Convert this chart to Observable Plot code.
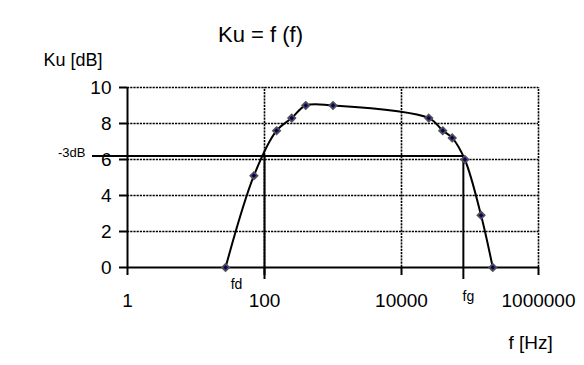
<!DOCTYPE html>
<html>
<head>
<meta charset="utf-8">
<script src="https://cdn.jsdelivr.net/npm/d3@7"></script>
<script src="https://cdn.jsdelivr.net/npm/@observablehq/plot@0.6"></script>
<style>
  html, body { margin: 0; padding: 0; background: #fff; }
</style>
</head>
<body>
<div id="chart"></div>
<script>
// Data
const freq = [27, 70, 150, 250, 400, 1000, 25000, 40000, 55000, 84000, 145000, 215000];
const gain = [0, 5.1, 7.6, 8.3, 9.0, 9.0, 8.3, 7.6, 7.2, 6.0, 2.9, 0];
const xTicks = [1, 100, 10000, 1000000];
const yTicks = [0, 2, 4, 6, 8, 10];
const xGrid = [100, 10000, 1000000];
const yGrid = [2, 4, 6, 8, 10];
const level3dB = 6.2;
const fd = 100;
const fg = 80000;
const title = "Ku = f (f)";
const yLabel = "Ku [dB]";
const xLabel = "f [Hz]";
const levelLabel = "-3dB";
const fdLabel = "fd";
const fgLabel = "fg";

const data = freq.map((f, i) => ({f, ku: gain[i]}));
const xMin = xTicks[0], xMax = xTicks[xTicks.length - 1];
const yMin = yTicks[0], yMax = yTicks[yTicks.length - 1];

const chart = Plot.plot({
  width: 584,
  height: 365,
  marginLeft: 127,
  marginRight: 46,
  marginTop: 87,
  marginBottom: 98,
  style: {fontFamily: "'Liberation Sans', Arial, sans-serif", fontSize: "19px", color: "#000", background: "#fff"},
  x: {type: "log", domain: [xMin, xMax], axis: null},
  y: {domain: [yMin, yMax], axis: null},
  marks: [
    // dotted gridlines
    Plot.ruleX(xGrid, {x: d => d, y1: yMin, y2: yMax, stroke: "#000", strokeWidth: 1.6, strokeDasharray: "2.2,1"}),
    Plot.ruleY(yGrid, {y: d => d, x1: xMin, x2: xMax, stroke: "#000", strokeWidth: 1.6, strokeDasharray: "2.2,1"}),
    // axes
    Plot.axisX({ticks: xTicks, tickFormat: d => String(d), tickSize: 8, tickPadding: 18, strokeWidth: 2, label: null, fontSize: 19}),
    Plot.axisY({ticks: yTicks, tickFormat: d => String(d), tickSize: 8, tickPadding: 8, strokeWidth: 2, label: null, fontSize: 19}),
    Plot.ruleY([yMin], {x1: xMin, x2: xMax, stroke: "#000", strokeWidth: 2}),
    Plot.ruleX([xMin], {y1: yMin, y2: yMax, stroke: "#000", strokeWidth: 2}),
    // -3dB level and cut-off frequencies
    Plot.ruleY([level3dB], {y: d => d, x1: xMin, x2: fg, insetLeft: -35, stroke: "#000", strokeWidth: 2}),
    Plot.ruleX([fd, fg], {x: d => d, y1: level3dB, y2: yMin, insetBottom: -12, stroke: "#000", strokeWidth: 2}),
    // curve + markers
    Plot.line(data, {x: "f", y: "ku", curve: "catmull-rom", stroke: "#000", strokeWidth: 2}),
    Plot.dot(data, {x: "f", y: "ku", symbol: "diamond2", r: 3.2, fill: "#000070", stroke: "#505050", strokeWidth: 1.8}),
    // labels
    Plot.text([level3dB], {x: xMin, y: d => d, text: () => levelLabel, textAnchor: "end", lineAnchor: "bottom", dx: -42, dy: 1, fontSize: 13, fill: "#000"}),
    Plot.text([fd], {x: d => d, y: yMin, text: () => fdLabel, textAnchor: "middle", lineAnchor: "bottom", dx: -28, dy: 21, fontSize: 14, fill: "#000"}),
    Plot.text([fg], {x: d => d, y: yMin, text: () => fgLabel, textAnchor: "middle", lineAnchor: "bottom", dx: 5, dy: 33, fontSize: 14, fill: "#000"}),
    Plot.text([title], {frameAnchor: "top-left", text: d => d, textAnchor: "middle", lineAnchor: "bottom", dx: 133, dy: -46, fontSize: 22, fill: "#000"}),
    Plot.text([yLabel], {frameAnchor: "top-left", text: d => d, textAnchor: "start", lineAnchor: "bottom", dx: -84, dy: -22, fontSize: 18, fill: "#000"}),
    Plot.text([xLabel], {frameAnchor: "top-left", text: d => d, textAnchor: "start", lineAnchor: "bottom", dx: 381, dy: 261, fontSize: 19, fill: "#000"})
  ]
});
document.getElementById("chart").appendChild(chart);
</script>
</body>
</html>
